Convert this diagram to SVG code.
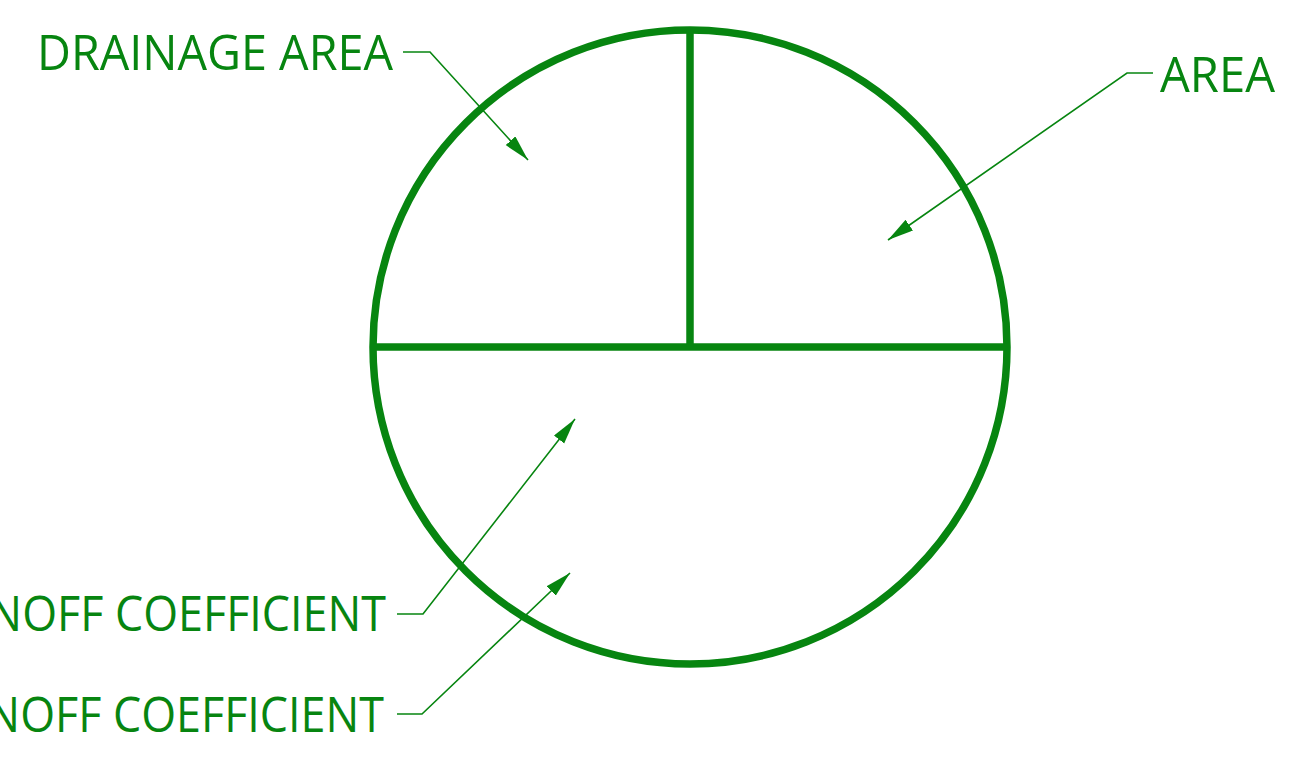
<svg xmlns="http://www.w3.org/2000/svg" width="1314" height="761" viewBox="0 0 1314 761">
<style>
.shape{fill:none;stroke:#078510;stroke-width:7.5}
.lead{fill:none;stroke:#078510;stroke-width:1.6}
.lbl{font-family:"Open Sans","Noto Sans",sans-serif;font-size:50px;fill:#078510}
</style>
<defs>
<marker id="ah" markerUnits="userSpaceOnUse" markerWidth="28" markerHeight="14" refX="26" refY="6.5" orient="auto">
<path d="M0,0 L26,6.5 L0,13 Z" fill="#078510"/>
</marker>
</defs>
<rect width="1314" height="761" fill="#ffffff"/>
<g id="circle-symbol">
<circle class="shape" cx="690" cy="347" r="317"/>
<line class="shape" x1="373" y1="347" x2="1007" y2="347"/>
<line class="shape" x1="690" y1="30" x2="690" y2="347"/>
</g>
<g id="label-drainage-area">
<text class="lbl" x="37" y="70" textLength="356" lengthAdjust="spacingAndGlyphs">DRAINAGE AREA</text>
</g>
<g id="label-area">
<text class="lbl" x="1160" y="92" textLength="115" lengthAdjust="spacingAndGlyphs">AREA</text>
</g>
<g id="label-runoff-1">
<text class="lbl" x="-72" y="631" textLength="458" lengthAdjust="spacingAndGlyphs">RUNOFF COEFFICIENT</text>
</g>
<g id="label-runoff-2">
<text class="lbl" x="-74" y="732" textLength="458" lengthAdjust="spacingAndGlyphs">RUNOFF COEFFICIENT</text>
</g>
<g id="connectors">
<path class="lead" d="M403,52 H430 L528,160" marker-end="url(#ah)"/>
<path class="lead" d="M1153,73 H1127 L888,240" marker-end="url(#ah)"/>
<path class="lead" d="M397,614 H423 L575,419" marker-end="url(#ah)"/>
<path class="lead" d="M397,714 H422 L570,573" marker-end="url(#ah)"/>
</g>
</svg>
